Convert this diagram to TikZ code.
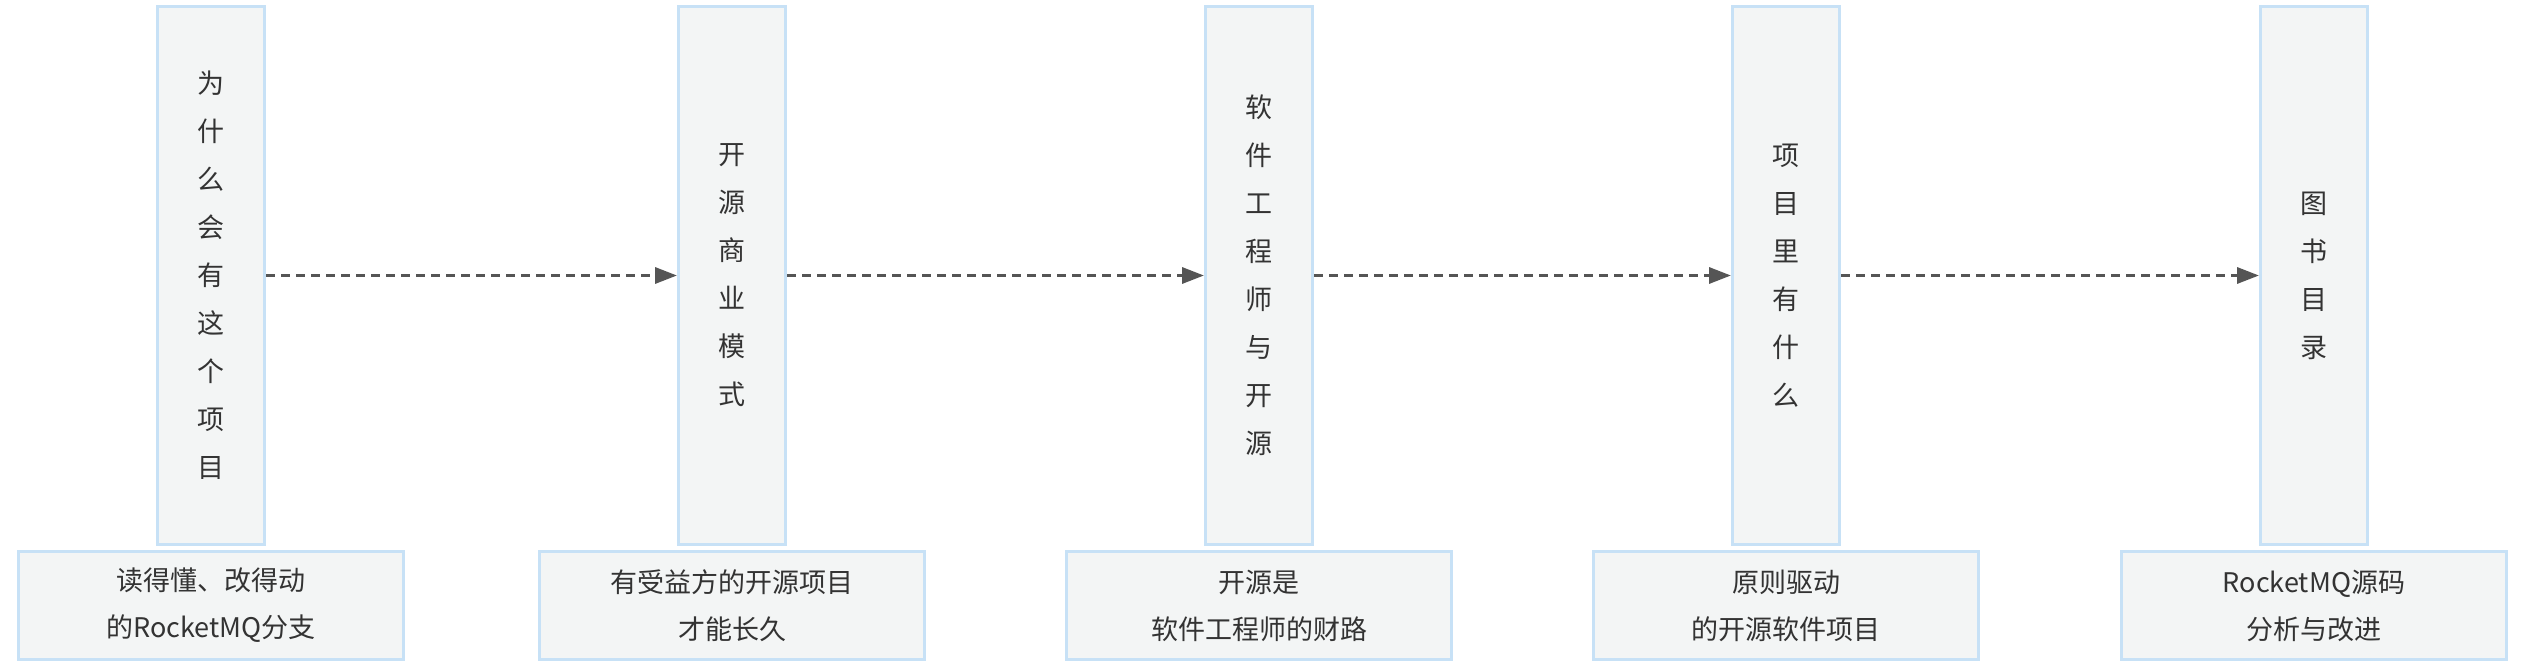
\documentclass[tikz,border=0pt]{standalone}
\usepackage{fontspec}
\setmainfont{Noto Sans CJK SC}
\usepackage{tikz}
\usetikzlibrary{
  arrows.meta,
  positioning
}
\definecolor{edgeblue}{RGB}{199,225,246}
\definecolor{boxgray}{RGB}{243,245,245}
\definecolor{arrowgray}{RGB}{85,85,85}
\definecolor{textgray}{RGB}{51,51,51}
\tikzset{
  basebox/.style={
    draw=edgeblue,
    fill=boxgray,
    line width=3pt,
    align=center,
    text=textgray,
    inner sep=0pt
  },
  stagebox/.style={
    basebox,
    minimum width=107pt,
    minimum height=538pt,
    font=\fontsize{27}{48}\selectfont
  },
  notebox/.style={
    basebox,
    minimum width=385pt,
    minimum height=108pt,
    font=\fontsize{27}{47}\selectfont
  },
  stagearrow/.style={
    -{Triangle[length=22pt,width=16pt]},
    line width=3.3pt,
    dash pattern=on 9pt off 6pt,
    draw=arrowgray
  },
}

\begin{document}
\begin{tikzpicture}[x=1pt,y=1pt]
  \useasboundingbox (0,0) rectangle (2530,-668);

  \node[stagebox] (why) at (211,-275.5) {为\\什\\么\\会\\有\\这\\个\\项\\目};
  \node[stagebox,right=411pt of why] (model) {开\\源\\商\\业\\模\\式};
  \node[stagebox,right=417pt of model] (engineer) {软\\件\\工\\程\\师\\与\\开\\源};
  \node[stagebox,right=417pt of engineer] (inside) {项\\目\\里\\有\\什\\么};
  \node[stagebox,right=418pt of inside] (toc) {图\\书\\目\\录};

  \node[notebox,below=4pt of why] (whynote) {读得懂、改得动\\的RocketMQ分支};
  \node[notebox,below=4pt of model] (modelnote) {有受益方的开源项目\\才能长久};
  \node[notebox,below=4pt of engineer] (engineernote) {开源是\\软件工程师的财路};
  \node[notebox,below=4pt of inside] (insidenote) {原则驱动\\的开源软件项目};
  \node[notebox,below=4pt of toc] (tocnote) {RocketMQ源码\\分析与改进};

  \draw[stagearrow] (why) -- (model);
  \draw[stagearrow] (model) -- (engineer);
  \draw[stagearrow] (engineer) -- (inside);
  \draw[stagearrow] (inside) -- (toc);
\end{tikzpicture}
\end{document}
